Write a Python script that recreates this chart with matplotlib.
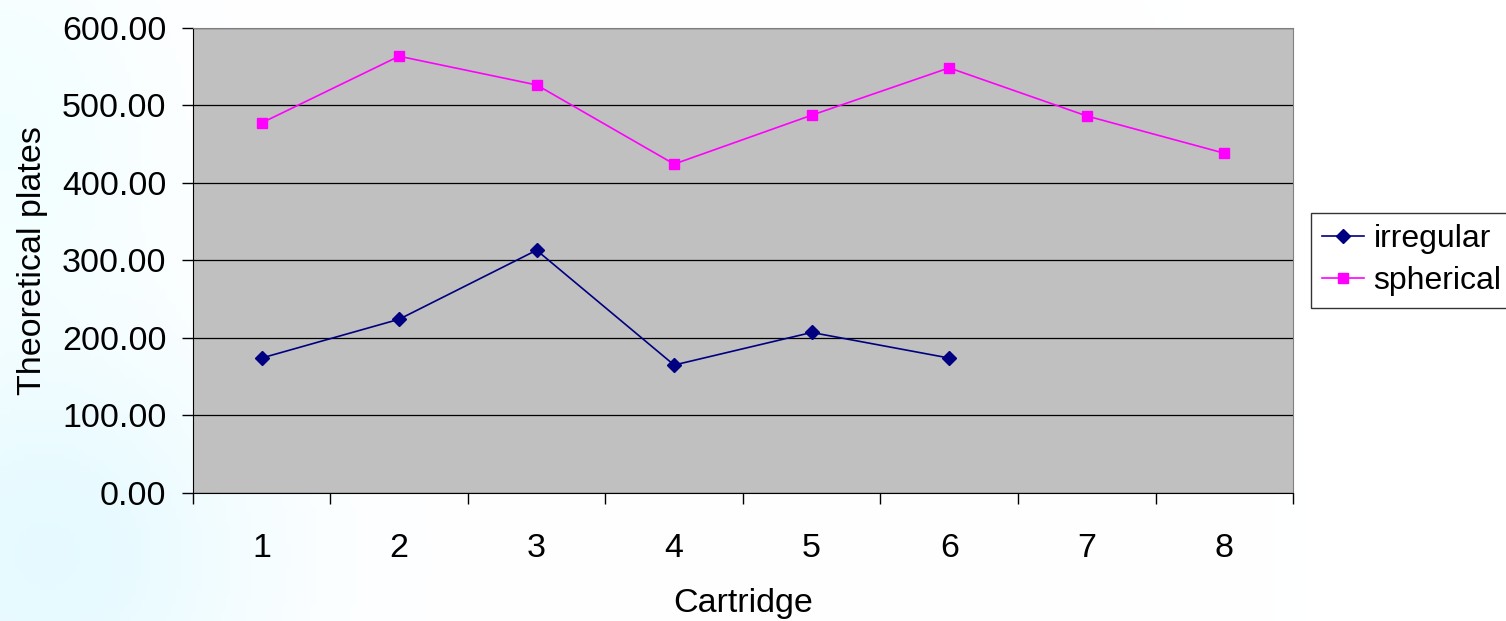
import matplotlib.pyplot as plt
import numpy as np

plt.rcParams['font.family'] = ['Liberation Sans', 'DejaVu Sans']

cartridges = [1, 2, 3, 4, 5, 6, 7, 8]
irregular = [174, 224, 313, 165, 207, 174]
spherical = [477, 563, 526, 424, 487, 548, 486, 438]
y_ticks = [0, 100, 200, 300, 400, 500, 600]

fig = plt.figure(figsize=(15.06, 6.21), dpi=100)

# faint bluish slide background
bg = fig.add_axes([0, 0, 1, 1], zorder=-10)
gx, gy = np.meshgrid(np.linspace(0, 1, 300), np.linspace(0, 1, 120))
glow = np.exp(-((gx - 0.03) ** 2) / 0.02 - ((gy - 0.1) ** 2) / 0.12)
glow2 = np.exp(-((gx - 0.0) ** 2) / 0.01 - ((gy - 0.8) ** 2) / 0.1)
img = np.ones((120, 300, 3))
img[..., 0] -= 0.10 * glow + 0.05 * glow2
img[..., 1] -= 0.02 * glow
bg.imshow(img, aspect='auto', extent=[0, 1, 0, 1], origin='lower')
bg.axis('off')

ax = fig.add_axes([0.128, 0.206, 0.7306, 0.7497])
ax.set_facecolor('#c0c0c0')
ax.plot(cartridges[:len(irregular)], irregular, color='#000080', marker='D',
        markersize=7, linewidth=1.2, label='irregular')
ax.plot(cartridges, spherical, color='#ff00ff', marker='s',
        markersize=7, linewidth=1.2, label='spherical')

fs = 24.5
ax.set_xlim(0.5, 8.5)
ax.set_ylim(0, 600)
ax.set_yticks(y_ticks)
ax.set_yticklabels([f'{v:.2f}' for v in y_ticks])
ax.set_xticks(cartridges)
ax.set_xticks(np.arange(0.5, 9, 1), minor=True)
ax.tick_params(axis='x', which='major', length=0, pad=29, labelsize=fs)
ax.tick_params(axis='x', which='minor', length=8, width=1, direction='out')
ax.tick_params(axis='y', length=8, width=1, pad=11, labelsize=fs)
ax.yaxis.grid(True, color='black', linewidth=0.9)
ax.set_axisbelow(True)
for s in ['top', 'right']:
    ax.spines[s].set_color('#808080')
for s in ['left', 'bottom']:
    ax.spines[s].set_color('black')

ax.set_xlabel('Cartridge', fontsize=fs, va='center')
ax.xaxis.set_label_coords(0.5, -0.238)
ax.set_ylabel('Theoretical plates', fontsize=fs, va='center')
ax.yaxis.set_label_coords(-0.1455, 0.5)

leg = ax.legend(loc='center left', bbox_to_anchor=(1.0165, 0.5), fontsize=23,
                frameon=True, fancybox=False, edgecolor='black',
                handlelength=1.3, handletextpad=0.3, borderpad=0.35,
                labelspacing=0.38, borderaxespad=0)
leg.get_frame().set_linewidth(1)

fig.savefig('out.png', dpi=100)
